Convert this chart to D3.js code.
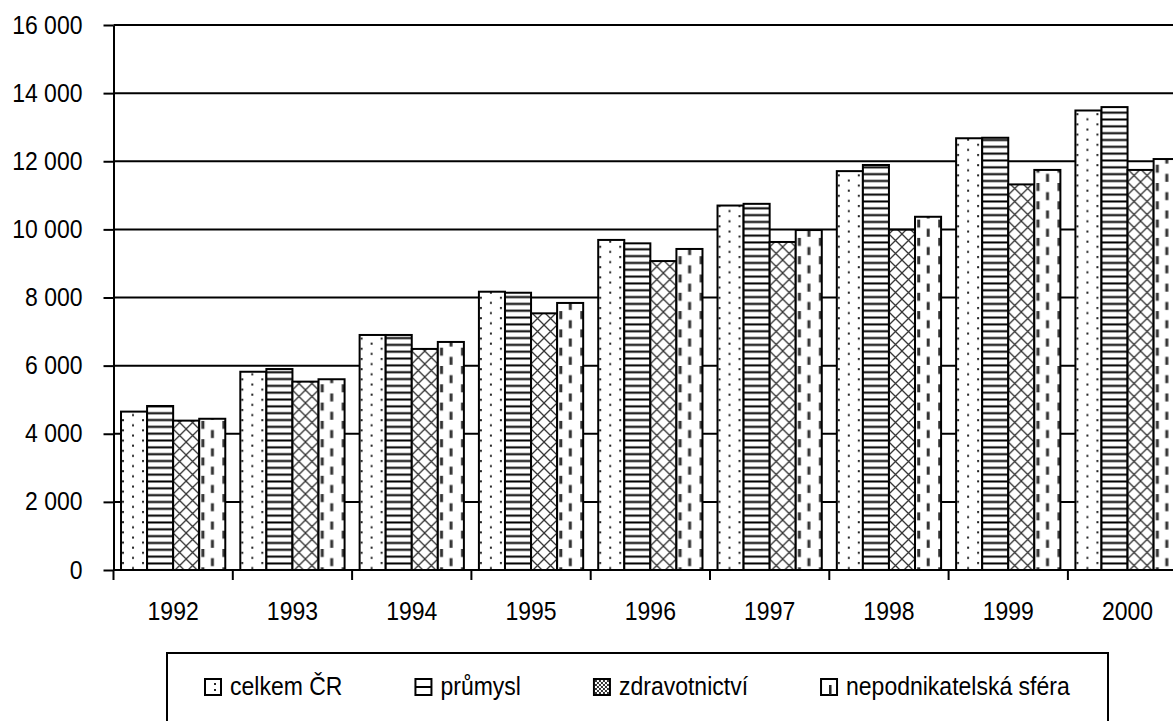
<!DOCTYPE html>
<html>
<head>
<meta charset="utf-8">
<script src="https://cdn.jsdelivr.net/npm/d3@7"></script>
<style>
  html, body { margin: 0; padding: 0; background: #fff; }
  svg { display: block; }
  text { font-family: "Liberation Sans", Arial, sans-serif; font-size: 25px; fill: #000; }
</style>
</head>
<body>
<svg id="chart" width="1173" height="721"></svg>
<script>
// ---- data ----
const categories = ["1992", "1993", "1994", "1995", "1996", "1997", "1998", "1999", "2000"];
const seriesNames = ["celkem ČR", "průmysl", "zdravotnictví", "nepodnikatelská sféra"];
const celkemCR      = [4650, 5820, 6900, 8170, 9690, 10700, 11710, 12675, 13490];
const prumysl       = [4815, 5900, 6900, 8140, 9590, 10750, 11890, 12690, 13590];
const zdravotnictvi = [4385, 5530, 6490, 7535, 9070, 9630, 9990, 11320, 11745];
const nepodnikatelska = [4440, 5600, 6695, 7840, 9425, 9980, 10370, 11745, 12065];
const yTicks = [0, 2000, 4000, 6000, 8000, 10000, 12000, 14000, 16000];

const seriesValues = [celkemCR, prumysl, zdravotnictvi, nepodnikatelska];
const patternTypes = ["dots", "hlines", "cross", "dashes"];

// ---- layout ----
const W = 1173, H = 721;
const plotLeft = 113.5, plotTop = 25, plotBottom = 570;
const step = 119.3;
const FONT = 25, SX = 0.92;

const svg = d3.select("#chart");
const defs = svg.append("defs");

const x0 = d3.scaleBand().domain(categories)
  .range([plotLeft, plotLeft + categories.length * step])
  .paddingInner(0.126).paddingOuter(0.063);
const x1 = d3.scaleBand().domain(d3.range(seriesNames.length)).range([0, x0.bandwidth()]);
const y = d3.scaleLinear().domain([0, 16000]).range([plotBottom, plotTop]);

const locale = d3.formatLocale({ decimal: ",", thousands: " ", grouping: [3], currency: ["", " Kč"] });
const fmt = locale.format(",d");

// narrow the text horizontally around its anchor point
function narrow(sel) {
  sel.each(function () {
    const t = d3.select(this);
    const ax = +t.attr("x") || 0;
    t.attr("transform", `translate(${ax},0) scale(${SX},1) translate(${-ax},0)`);
  });
}

// pattern factory
function makePattern(id, type, ox, oy) {
  const p = defs.append("pattern").attr("id", id).attr("patternUnits", "userSpaceOnUse")
    .attr("x", ox).attr("y", oy);
  if (type === "dots") {
    p.attr("width", 20).attr("height", 10.2);
    p.append("rect").attr("width", 20).attr("height", 10.2).attr("fill", "#fff");
    p.append("rect").attr("x", 1).attr("y", 1).attr("width", 2).attr("height", 2).attr("fill", "#222");
    p.append("rect").attr("x", 11).attr("y", 6.1).attr("width", 2).attr("height", 2).attr("fill", "#222");
  } else if (type === "hlines") {
    p.attr("width", 10).attr("height", 6.83);
    p.append("rect").attr("width", 10).attr("height", 6.83).attr("fill", "#fff");
    p.append("rect").attr("x", 0).attr("y", 2.4).attr("width", 10).attr("height", 2).attr("fill", "#000");
  } else if (type === "cross") {
    p.attr("width", 13).attr("height", 13);
    p.append("rect").attr("width", 13).attr("height", 13).attr("fill", "#fff");
    p.append("path").attr("d", "M0,0L13,13M13,0L0,13").attr("stroke", "#333").attr("stroke-width", 1.3);
  } else if (type === "dashes") {
    p.attr("width", 21).attr("height", 18.3);
    p.append("rect").attr("width", 21).attr("height", 18.3).attr("fill", "#fff");
    p.append("rect").attr("x", 2.2).attr("y", 0).attr("width", 3).attr("height", 8).attr("fill", "#333");
    p.append("rect").attr("x", 11.7).attr("y", 9.15).attr("width", 3).attr("height", 8).attr("fill", "#333");
  }
}

svg.append("rect").attr("width", W).attr("height", H).attr("fill", "#fff");

// gridlines
svg.append("g").selectAll("line").data(yTicks.filter(d => d > 0)).join("line")
  .attr("x1", plotLeft).attr("x2", W)
  .attr("y1", d => y(d)).attr("y2", d => y(d))
  .attr("stroke", "#000").attr("stroke-width", 2);

// bars
const barData = [];
categories.forEach((c, i) => {
  seriesValues.forEach((vals, s) => {
    barData.push({ cat: c, s: s, v: vals[i], id: "pat-" + s + "-" + i });
  });
});
barData.forEach(d => makePattern(d.id, patternTypes[d.s], x0(d.cat) + x1(d.s), 0));

svg.append("g").selectAll("rect").data(barData).join("rect")
  .attr("x", d => x0(d.cat) + x1(d.s))
  .attr("y", d => y(d.v))
  .attr("width", x1.bandwidth())
  .attr("height", d => y(0) - y(d.v))
  .attr("fill", d => "url(#" + d.id + ")")
  .attr("stroke", "#000").attr("stroke-width", 2);

// y axis
const yAxis = svg.append("g").attr("transform", `translate(${plotLeft},0)`)
  .call(d3.axisLeft(y).tickValues(yTicks).tickFormat(fmt).tickSize(10).tickSizeOuter(0).tickPadding(21));
yAxis.selectAll("path,line").attr("stroke", "#000").attr("stroke-width", 2);
yAxis.selectAll("text").style("font-size", FONT + "px").attr("fill", "#000").call(narrow);

// x axis line
svg.append("line").attr("x1", plotLeft).attr("x2", W)
  .attr("y1", y(0)).attr("y2", y(0)).attr("stroke", "#000").attr("stroke-width", 2);

// x boundary ticks
const gap = x0.step() * x0.paddingInner() / 2;
const bounds = categories.map(c => x0(c) - gap).concat([x0(categories[categories.length - 1]) + x0.bandwidth() + gap]);
svg.append("g").selectAll("line").data(bounds).join("line")
  .attr("x1", d => d).attr("x2", d => d)
  .attr("y1", y(0)).attr("y2", y(0) + 10)
  .attr("stroke", "#000").attr("stroke-width", 2);

// x labels
const xAxis = svg.append("g").attr("transform", `translate(0,${y(0)})`)
  .call(d3.axisBottom(x0).tickSize(0).tickPadding(32));
xAxis.select(".domain").remove();
xAxis.selectAll("text").style("font-size", FONT + "px").attr("fill", "#000").call(narrow);

// legend
const lg = svg.append("g");
lg.append("rect").attr("x", 167).attr("y", 653).attr("width", 941).attr("height", 90)
  .attr("fill", "#fff").attr("stroke", "#000").attr("stroke-width", 2);

const iconSize = 16, iconTop = 679, textBase = 695, iconGap = 9, itemGap = 73;
let cx = 205;
seriesNames.forEach((name, s) => {
  const g = lg.append("g");
  const ix = cx;
  g.append("rect").attr("x", ix).attr("y", iconTop).attr("width", iconSize).attr("height", iconSize)
    .attr("fill", "#fff").attr("stroke", "#000").attr("stroke-width", 2);
  if (s === 0) {
    g.append("rect").attr("x", ix + 9).attr("y", iconTop + 4).attr("width", 2).attr("height", 2).attr("fill", "#222");
    g.append("rect").attr("x", ix + 9).attr("y", iconTop + 10).attr("width", 2).attr("height", 2).attr("fill", "#222");
  } else if (s === 1) {
    g.append("line").attr("x1", ix).attr("x2", ix + iconSize).attr("y1", iconTop + 8).attr("y2", iconTop + 8)
      .attr("stroke", "#000").attr("stroke-width", 2);
  } else if (s === 2) {
    const pid = "legcross";
    const p = defs.append("pattern").attr("id", pid).attr("patternUnits", "userSpaceOnUse")
      .attr("x", ix).attr("y", iconTop).attr("width", 4).attr("height", 4);
    p.append("rect").attr("width", 4).attr("height", 4).attr("fill", "#fff");
    p.append("path").attr("d", "M0,0L4,4M4,0L0,4").attr("stroke", "#333").attr("stroke-width", 1);
    g.append("rect").attr("x", ix + 1).attr("y", iconTop + 1).attr("width", iconSize - 2).attr("height", iconSize - 2)
      .attr("fill", "url(#" + pid + ")");
  } else {
    g.append("rect").attr("x", ix + 8).attr("y", iconTop + 6).attr("width", 2.5).attr("height", 10).attr("fill", "#222");
  }
  const tx = ix + iconSize + iconGap;
  const t = g.append("text").attr("x", tx).attr("y", textBase).text(name)
    .style("font-size", FONT + "px").call(narrow);
  cx = tx + t.node().getComputedTextLength() * SX + itemGap;
});
</script>
</body>
</html>
